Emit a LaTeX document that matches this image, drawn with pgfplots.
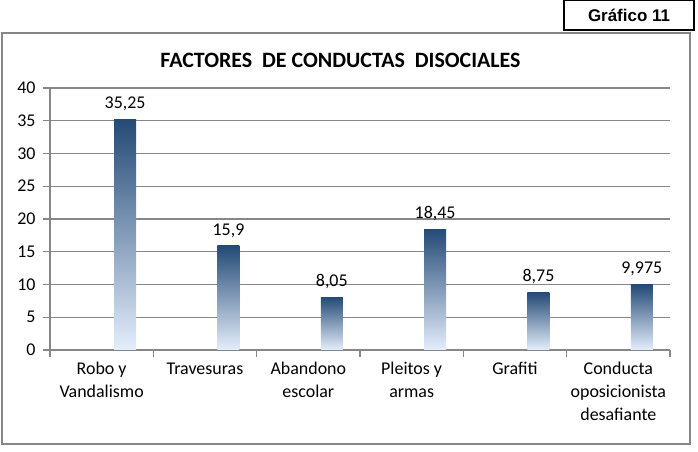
\documentclass[border=0pt]{standalone}
\usepackage{fontspec}
\setmainfont{Carlito}
\newfontfamily\arialb{Liberation Sans}
\usepackage{pgfplots}
\pgfplotsset{compat=1.18}
\definecolor{gridgray}{RGB}{134,134,134}
\definecolor{bartop}{RGB}{36,74,118}
\definecolor{barmid}{RGB}{122,154,196}
\definecolor{barbot}{RGB}{228,238,252}
\pgfplotsset{mybar/.style={ybar, bar width=22bp, bar shift=0pt, draw=none, mark=none, top color=bartop, middle color=barmid, bottom color=barbot}}
\begin{document}
\begin{tikzpicture}[x=1bp,y=1bp]
\useasboundingbox (-50,-102) rectangle (648,350);
\draw[gridgray, line width=1.5bp] (-48,-94) rectangle (640,317);
\draw[black, line width=1.2bp] (514,320) rectangle (644,350);
\node[font=\arialb\bfseries\fontsize{17}{20}\selectfont] at (579,335) {Gráfico 11};
\node[font=\bfseries\fontsize{22}{26}\selectfont] at (290.5,290) {FACTORES\ \ DE CONDUCTAS\ \ DISOCIALES};
\begin{axis}[
  at={(0,0)}, anchor=south west,
  scale only axis, width=620bp, height=262bp,
  xmin=-0.5, xmax=5.5, ymin=0, ymax=40,
  axis x line=bottom, axis y line=left,
  axis line style={-, gridgray, line width=1.3bp},
  xtick={-0.5,0.5,1.5,2.5,3.5,4.5,5.5},
  x tick label as interval,
  xticklabels={{Robo y\\Vandalismo},{Travesuras},{Abandono\\escolar},{Pleitos y\\armas},{Grafiti},{Conducta\\oposicionista\\desafiante}},
  ytick={0,5,...,40},
  tick align=outside, major tick length=7bp,
  tick style={gridgray, line width=1.3bp},
  ymajorgrids, grid style={gridgray, line width=1.3bp},
  x tick label style={font=\fontsize{18}{23}\selectfont, align=center, anchor=north, yshift=-2bp},
  y tick label style={font=\fontsize{18}{22}\selectfont, xshift=-4bp},
  /pgf/number format/.cd, use comma, precision=3, assume math mode=true,
  /pgfplots/.cd,
  nodes near coords,
  nodes near coords style={font=\fontsize{18}{22}\selectfont, text=black, anchor=south, yshift=5bp},
  clip=false,
]
\addplot[mybar] coordinates {(0.227,35.25)};
\addplot[mybar] coordinates {(1.227,15.9)};
\addplot[mybar] coordinates {(2.227,8.05)};
\addplot[mybar] coordinates {(3.227,18.45)};
\addplot[mybar] coordinates {(4.227,8.75)};
\addplot[mybar] coordinates {(5.227,9.975)};
\end{axis}
\end{tikzpicture}
\end{document}
